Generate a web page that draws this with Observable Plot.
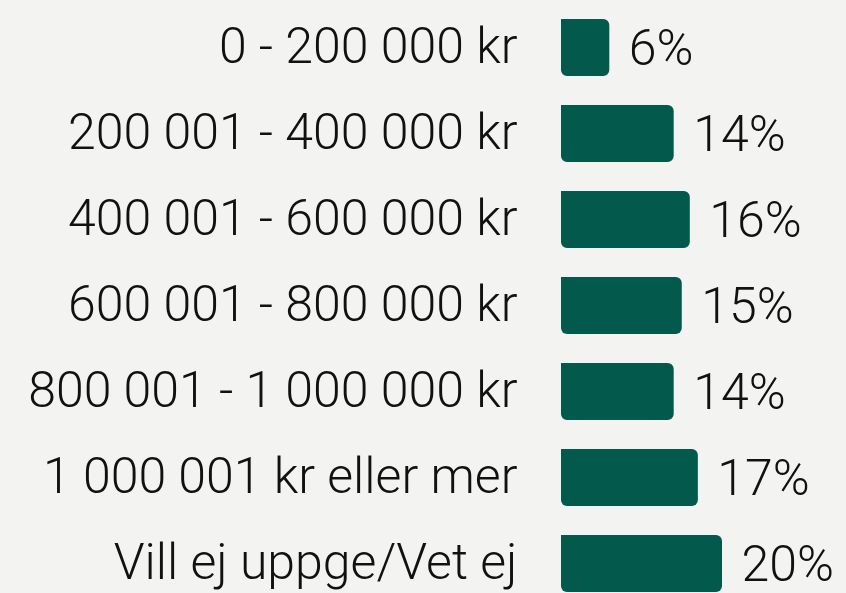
<!DOCTYPE html>
<html>
<head>
<meta charset="utf-8">
<script src="https://cdn.jsdelivr.net/npm/d3@7"></script>
<script src="https://cdn.jsdelivr.net/npm/@observablehq/plot@0.6"></script>
<style>
  html, body { margin: 0; padding: 0; background: #f3f3f1; overflow: hidden; }
  #chart svg { display: block; }
</style>
</head>
<body>
<div id="chart"></div>
<script>
const categories = [
  "0 - 200 000 kr",
  "200 001 - 400 000 kr",
  "400 001 - 600 000 kr",
  "600 001 - 800 000 kr",
  "800 001 - 1 000 000 kr",
  "1 000 001 kr eller mer",
  "Vill ej uppge/Vet ej"
];
const values = [6, 14, 16, 15, 14, 17, 20];

const data = categories.map((c, i) => ({category: c, value: values[i]}));

const chart = Plot.plot({
  width: 846,
  height: 593,
  margin: 0,
  style: {background: "#f3f3f1", fontFamily: "Roboto, 'Liberation Sans', Arial, sans-serif", fontWeight: 300, color: "#111"},
  x: {domain: [0, 20], range: [561, 722], axis: null},
  y: {domain: categories, range: [-11, 622], padding: 0.34, axis: null},
  marks: [
    Plot.barX(data, {x: "value", y: "category", fill: "#02594c", rx2: 6, ry2: 6}),
    Plot.text(data, {x: 0, y: "category", text: "category", textAnchor: "end", dx: -44, dy: -1, fontSize: 50, fontWeight: 300, fill: "#111"}),
    Plot.text(data, {x: "value", y: "category", text: d => d.value + "%", textAnchor: "start", dx: 19, dy: 1, fontSize: 50, fontWeight: 300, fill: "#111"})
  ]
});
document.getElementById("chart").appendChild(chart);
</script>
</body>
</html>
